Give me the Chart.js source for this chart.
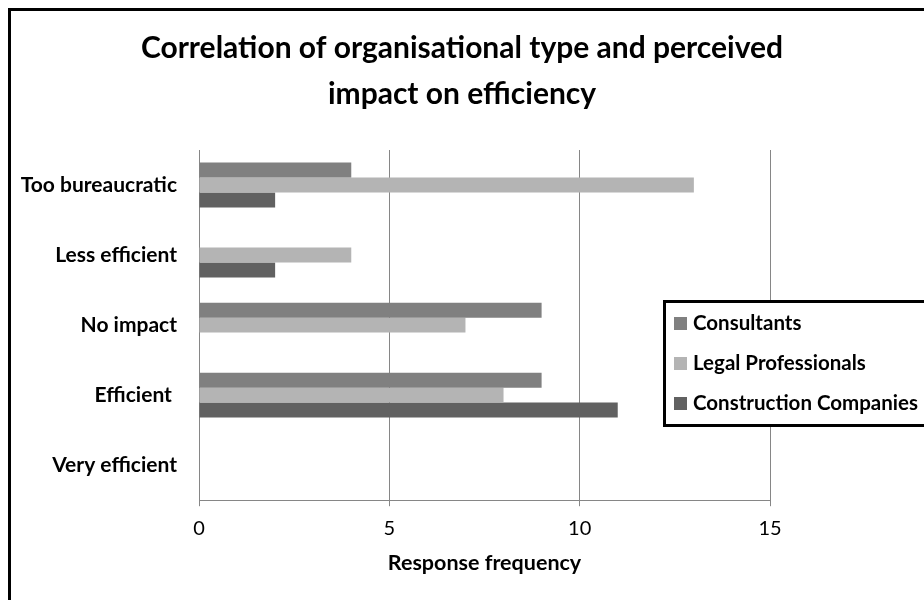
<!DOCTYPE html>
<html>
<head>
<meta charset="utf-8">
<script src="https://cdn.jsdelivr.net/npm/chart.js@4/dist/chart.umd.min.js"></script>
<style>
  html, body { margin: 0; padding: 0; background: #fff; }
  #wrap { width: 924px; height: 600px; }
</style>
</head>
<body>
<div id="wrap"><canvas id="c" width="924" height="600"></canvas></div>
<script>
// Survey responses by perceived impact, per organisation type
const categories = ['Too bureaucratic', 'Less efficient', 'No impact', 'Efficient ', 'Very efficient'];
const seriesNames = ['Consultants', 'Legal Professionals', 'Construction Companies'];
const consultants = [4, 0, 9, 9, 0];
const legalProfessionals = [13, 4, 7, 8, 0];
const constructionCompanies = [2, 2, 0, 11, 0];
const xTicks = [0, 5, 10, 15];
const titleLines = ['Correlation of organisational type and perceived', 'impact on efficiency'];
const axisTitle = 'Response frequency';

const seriesColors = ['#808080', '#b4b4b4', '#616161'];
const FONT = 'Lato, "DejaVu Sans", sans-serif';
const GRID = '#868686';

// White page plus the outer frame (only its top and left edges fall inside the canvas)
const framePlugin = {
  id: 'frame',
  beforeDraw(chart) {
    const ctx = chart.ctx;
    ctx.save();
    ctx.fillStyle = '#fff';
    ctx.fillRect(0, 0, chart.width, chart.height);
    ctx.restore();
  },
  afterDraw(chart) {
    const ctx = chart.ctx;
    ctx.save();
    ctx.strokeStyle = '#000';
    ctx.lineWidth = 3;
    ctx.strokeRect(9.5, 9.5, chart.width + 20, chart.height + 20);
    ctx.restore();
  }
};

// Two-line heading centred on the whole figure
const headingPlugin = {
  id: 'heading',
  afterDraw(chart) {
    const ctx = chart.ctx;
    ctx.save();
    ctx.fillStyle = '#000';
    ctx.font = 'bold 30px ' + FONT;
    ctx.textAlign = 'center';
    ctx.textBaseline = 'middle';
    titleLines.forEach((line, i) => ctx.fillText(line, chart.width / 2, 48 + i * 46));
    ctx.restore();
  }
};

// Boxed legend sitting over the right side of the plot
const boxLegendPlugin = {
  id: 'boxLegend',
  afterDraw(chart) {
    const ctx = chart.ctx;
    const x0 = 664, y0 = 301, w = 280, h = 124;
    ctx.save();
    ctx.fillStyle = '#fff';
    ctx.fillRect(x0, y0, w, h);
    ctx.strokeStyle = '#000';
    ctx.lineWidth = 3;
    ctx.strokeRect(x0 + 0.5, y0 + 0.5, w, h);
    ctx.font = 'bold 20.5px ' + FONT;
    ctx.textBaseline = 'middle';
    ctx.textAlign = 'left';
    chart.data.datasets.forEach((ds, i) => {
      const cy = y0 + 22 + i * 40;
      ctx.fillStyle = ds.backgroundColor;
      ctx.fillRect(674, cy - 6, 13, 13);
      ctx.fillStyle = '#000';
      ctx.fillText(ds.label, 693, cy);
    });
    ctx.restore();
  }
};

const seriesValues = [consultants, legalProfessionals, constructionCompanies];

new Chart(document.getElementById('c'), {
  type: 'bar',
  data: {
    labels: categories,
    datasets: seriesNames.map((name, i) => ({
      label: name,
      data: seriesValues[i],
      backgroundColor: seriesColors[i],
      borderWidth: 0,
      barPercentage: 1,
      categoryPercentage: 0.64
    }))
  },
  options: {
    indexAxis: 'y',
    responsive: false,
    animation: false,
    devicePixelRatio: 1,
    layout: { padding: { left: 10, right: 154, top: 150, bottom: 20 } },
    plugins: {
      legend: { display: false },
      tooltip: { enabled: false },
      title: { display: false }
    },
    scales: {
      x: {
        type: 'linear',
        min: 0,
        max: 15,
        afterBuildTicks(scale) { scale.ticks = xTicks.map(v => ({ value: v })); },
        grid: { color: GRID, lineWidth: 1, drawTicks: true, tickLength: 6, tickColor: GRID },
        border: { display: true, color: GRID, width: 1 },
        ticks: { color: '#000', padding: 10, font: { family: FONT, size: 20, lineHeight: 1.2 } },
        title: {
          display: true,
          text: axisTitle,
          color: '#000',
          font: { family: FONT, size: 21.5, weight: 'bold', lineHeight: 1.2 },
          padding: { top: 0, bottom: 4 }
        }
      },
      y: {
        type: 'category',
        grid: { display: false, drawTicks: false },
        border: { display: true, color: GRID, width: 1 },
        ticks: { color: '#000', padding: 22, font: { family: FONT, size: 21, weight: 'bold' } },
        afterFit(scale) { scale.width = 189; }
      }
    }
  },
  plugins: [framePlugin, headingPlugin, boxLegendPlugin]
});
</script>
</body>
</html>
